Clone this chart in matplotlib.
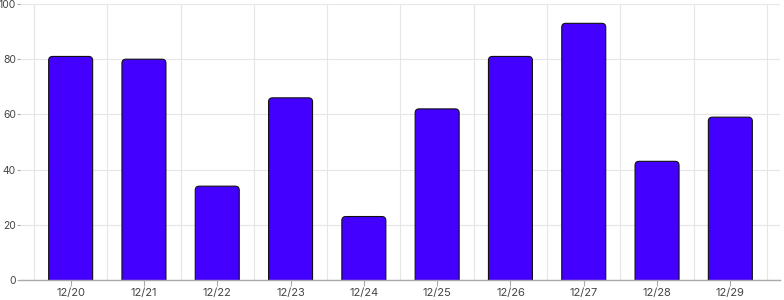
import matplotlib
matplotlib.use("Agg")
import matplotlib.pyplot as plt
from matplotlib.patches import FancyBboxPatch

plt.rcParams['font.family'] = ['Inter', 'DejaVu Sans']

dates = ["12/20", "12/21", "12/22", "12/23", "12/24", "12/25", "12/26", "12/27", "12/28", "12/29"]
values = [81, 80, 34, 66, 23, 62, 81, 93, 43, 59]
y_ticks = [0, 20, 40, 60, 80, 100]

W, H = 784, 300
fig = plt.figure(figsize=(W / 100, H / 100), dpi=100)
# plot area in pixels: x 20..780, y 4..280 (from top)
ax = fig.add_axes([20 / W, 20 / H, 760 / W, 276 / H])

n = len(dates)
band_px = (767 - 34) / n
pad_l = (34 - 20) / band_px
pad_r = (780 - 767) / band_px
ax.set_xlim(-0.5 - pad_l, n - 0.5 + pad_r)
ax.set_ylim(0, 100)

# grid
for yt in y_ticks:
    ax.axhline(yt, color="#e6e6e6", lw=0.8, zorder=0)
for k in range(n + 1):
    ax.axvline(k - 0.5, color="#e6e6e6", lw=0.8, zorder=0)

# rounded bars (bottom pushed below 0 and clipped, so only top corners are round)
bar_w = 44 / band_px
r_px = 4
x_per_px = 1 / band_px
y_per_px = 100 / 276
for i, v in enumerate(values):
    p = FancyBboxPatch((i - bar_w / 2, -3), bar_w, v + 3,
                       boxstyle=f"round,pad=0,rounding_size={r_px * x_per_px}",
                       mutation_aspect=y_per_px / x_per_px,
                       facecolor="#4400ff", edgecolor="#111111", lw=0.8, zorder=2)
    ax.add_patch(p)

for s in ["top", "right", "left"]:
    ax.spines[s].set_visible(False)
ax.spines["bottom"].set_color("#aaaaaa")
ax.spines["bottom"].set_linewidth(1.0)
ax.spines["bottom"].set_zorder(3)

ax.set_xticks(range(n))
ax.set_xticklabels(dates)
ax.set_yticks(y_ticks)
ax.tick_params(axis="x", length=4, color="#aaaaaa", labelsize=8, labelcolor="#444444", pad=2)
ax.tick_params(axis="y", length=2.5, color="#aaaaaa", labelsize=7.5, labelcolor="#444444", pad=0.5)

fig.savefig("out.png", dpi=100)
